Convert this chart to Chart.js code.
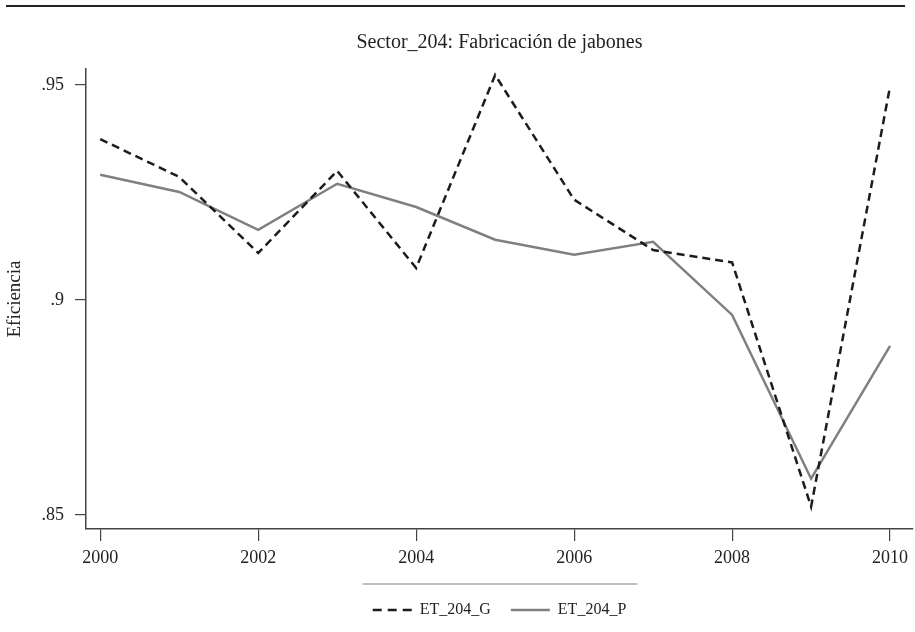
<!DOCTYPE html>
<html>
<head>
<meta charset="utf-8">
<script src="https://cdn.jsdelivr.net/npm/chart.js@4.4.1/dist/chart.umd.min.js"></script>
<style>
  html, body { margin: 0; padding: 0; background: #fff; }
</style>
</head>
<body>
<canvas id="chart" width="915" height="632"></canvas>
<script>
const years = [2000, 2001, 2002, 2003, 2004, 2005, 2006, 2007, 2008, 2009, 2010];
const etG = [.9374, .9286, .9109, .9300, .9074, .9523, .9233, .9116, .9087, .8519, .9497];
const etP = [.9291, .9251, .9163, .9270, .9216, .9140, .9105, .9135, .8965, .8584, .8893];
const xTicks = [2000, 2002, 2004, 2006, 2008, 2010];
const yTicks = [.85, .9, .95];

const serif = "'Liberation Serif', 'Times New Roman', serif";
const axisColor = "#444";

// top rule and the thin line over the legend
const decor = {
    id: "decor",
    afterDraw(chart) {
        const ctx = chart.ctx;
        const boxes = chart.legend.legendHitBoxes;
        ctx.save();
        ctx.strokeStyle = "#222";
        ctx.lineWidth = 2;
        ctx.beginPath();
        ctx.moveTo(6, 6);
        ctx.lineTo(905, 6);
        ctx.stroke();

        const first = boxes[0];
        const last = boxes[boxes.length - 1];
        const y = chart.chartArea.bottom + 55;
        ctx.strokeStyle = "#aaa";
        ctx.lineWidth = 1.5;
        ctx.beginPath();
        ctx.moveTo(first.left - 10, y);
        ctx.lineTo(last.left + last.width + 11, y);
        ctx.stroke();
        ctx.restore();
    }
};

new Chart(document.getElementById("chart").getContext("2d"), {
    type: "line",
    data: {
        datasets: [{
            label: "ET_204_G",
            data: years.map((yr, i) => ({ x: yr, y: etG[i] })),
            borderColor: "#1c1c1c",
            borderWidth: 2.5,
            borderDash: [8, 5],
            pointRadius: 0,
            tension: 0
        }, {
            label: "ET_204_P",
            data: years.map((yr, i) => ({ x: yr, y: etP[i] })),
            borderColor: "#808080",
            borderWidth: 2.5,
            pointRadius: 0,
            tension: 0
        }]
    },
    options: {
        responsive: false,
        animation: false,
        devicePixelRatio: 1,
        layout: { padding: { top: 0, right: 2, bottom: 4, left: 0 } },
        plugins: {
            title: {
                display: true,
                fullSize: false,
                text: "Sector_204: Fabricación de jabones",
                color: "#222",
                font: { family: serif, size: 20, weight: "normal" },
                padding: { top: 31, bottom: 14 }
            },
            legend: {
                position: "bottom",
                fullSize: false,
                labels: {
                    usePointStyle: true,
                    pointStyle: "line",
                    pointStyleWidth: 39,
                    padding: 20,
                    color: "#222",
                    font: { family: serif, size: 16 },
                    generateLabels: chart => Chart.defaults.plugins.legend.labels.generateLabels(chart).map(item => {
                        const ds = chart.data.datasets[item.datasetIndex];
                        item.lineDash = ds.borderDash ? [9, 6] : [];
                        item.lineWidth = ds.borderWidth;
                        item.strokeStyle = ds.borderColor;
                        return item;
                    })
                }
            },
            tooltip: { enabled: false }
        },
        scales: {
            x: {
                type: "linear",
                min: 1999.82,
                max: 2010.29,
                afterBuildTicks: scale => { scale.ticks = xTicks.map(v => ({ value: v })); },
                afterFit: scale => { scale.height = 53; },
                border: { color: axisColor, width: 1.5 },
                grid: { drawOnChartArea: false, drawTicks: true, tickLength: 12, color: axisColor, lineWidth: 1.2 },
                ticks: {
                    padding: 6,
                    color: "#222",
                    font: { family: serif, size: 18 },
                    maxRotation: 0,
                    callback: v => String(v)
                }
            },
            y: {
                min: .8467,
                max: .9537,
                afterBuildTicks: scale => { scale.ticks = yTicks.map(v => ({ value: v })); },
                afterFit: scale => { scale.width = 86; },
                border: { color: axisColor, width: 1.5 },
                grid: { drawOnChartArea: false, drawTicks: true, tickLength: 11, color: axisColor, lineWidth: 1.2 },
                title: {
                    display: true,
                    text: "Eficiencia",
                    color: "#222",
                    font: { family: serif, size: 19 },
                    padding: { top: 4, bottom: 4 }
                },
                ticks: {
                    padding: 11,
                    color: "#222",
                    font: { family: serif, size: 18 },
                    callback: v => String(v).replace(/^0\./, ".")
                }
            }
        }
    },
    plugins: [decor]
});
</script>
</body>
</html>
